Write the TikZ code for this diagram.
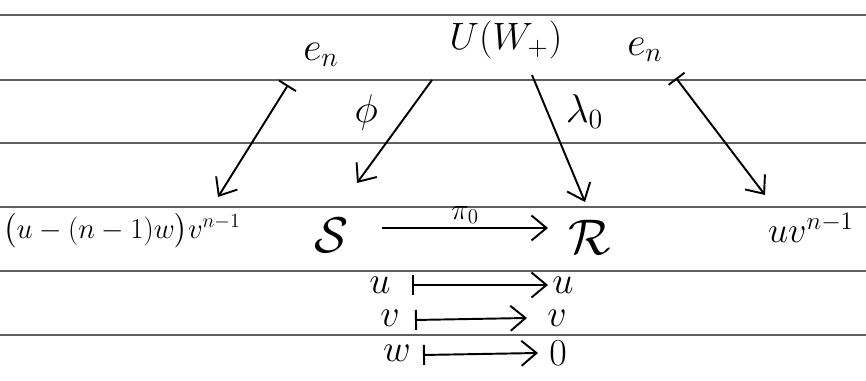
\documentclass[tikz,border=0pt]{standalone}
\usepackage{tikz}
\usetikzlibrary{arrows.meta,calc}
\usepackage{amsmath,amssymb}
\usepackage{xcolor}
\definecolor{rulecol}{RGB}{95,95,95}

\begin{document}
\begin{tikzpicture}[x=0.02cm, y=0.02cm, line width=1.1pt,
  every node/.style={font=\huge, scale=1.1, inner sep=1pt},
  arr/.style={-{Straight Barb[length=3mm,width=5mm]}},
  mapsto/.style={{Bar[width=4mm]}-{Straight Barb[length=3mm,width=5mm]}}]
  \useasboundingbox (0,0) rectangle (866,381);
  % ruled paper
  \foreach \ry in {366,301,238,174,110,46}
    \draw[rulecol,line width=0.8pt] (0,\ry) -- (866,\ry);

  \node[scale=0.95] (uw) at (506,341) {$U(W_+)$};
  \node (enl) at (321,326) {$e_n$};
  \node (enr) at (645,331) {$e_n$};
  \node[scale=0.72] (lhs) at (122,150) {$\bigl(u-(n-1)w\bigr)v^{n-1}$};
  \node[scale=1.25] (S) at (332,146) {$\mathcal{S}$};
  \node[scale=1.25] (R) at (590,144) {$\mathcal{R}$};
  \node[scale=0.9] (rhs) at (811,153) {$uv^{n-1}$};
  \node[scale=0.95] (ul) at (380,96) {$u$};
  \node[scale=0.95] (ur) at (563,96) {$u$};
  \node[scale=0.95] (vl) at (390,63) {$v$};
  \node[scale=0.95] (vr) at (557,63) {$v$};
  \node[scale=0.95] (wl) at (397,28) {$w$};
  \node[scale=0.95] (wr) at (558,28) {$0$};

  \draw[arr] ($(uw)+(-74,-40)$) -- ($(S)+(25,52)$)
    node[pos=0.32,left=14pt] {$\phi$};
  \draw[arr] ($(uw)+(26,-35)$) -- ($(R)+(-5,35)$)
    node[pos=0.29,right=8pt] {$\lambda_0$};
  \draw[mapsto] ($(enl)+(-33,-30)$) -- ($(lhs)+(96,34)$);
  \draw[mapsto] ($(enr)+(31,-28)$) -- ($(rhs)+(-46,33)$);
  \draw[arr] ($(S)+(50,7)$) -- ($(R)+(-42,9)$)
    node[midway,above=1pt,scale=0.75] {$\pi_0$};
  \draw[mapsto] ($(ul)+(32,0)$) -- ($(ur)+(-15,0)$);
  \draw[mapsto] ($(vl)+(25,-2)$) -- ($(vr)+(-30,0)$);
  \draw[mapsto] ($(wl)+(26,-2)$) -- ($(wr)+(-20,0)$);
\end{tikzpicture}
\end{document}
